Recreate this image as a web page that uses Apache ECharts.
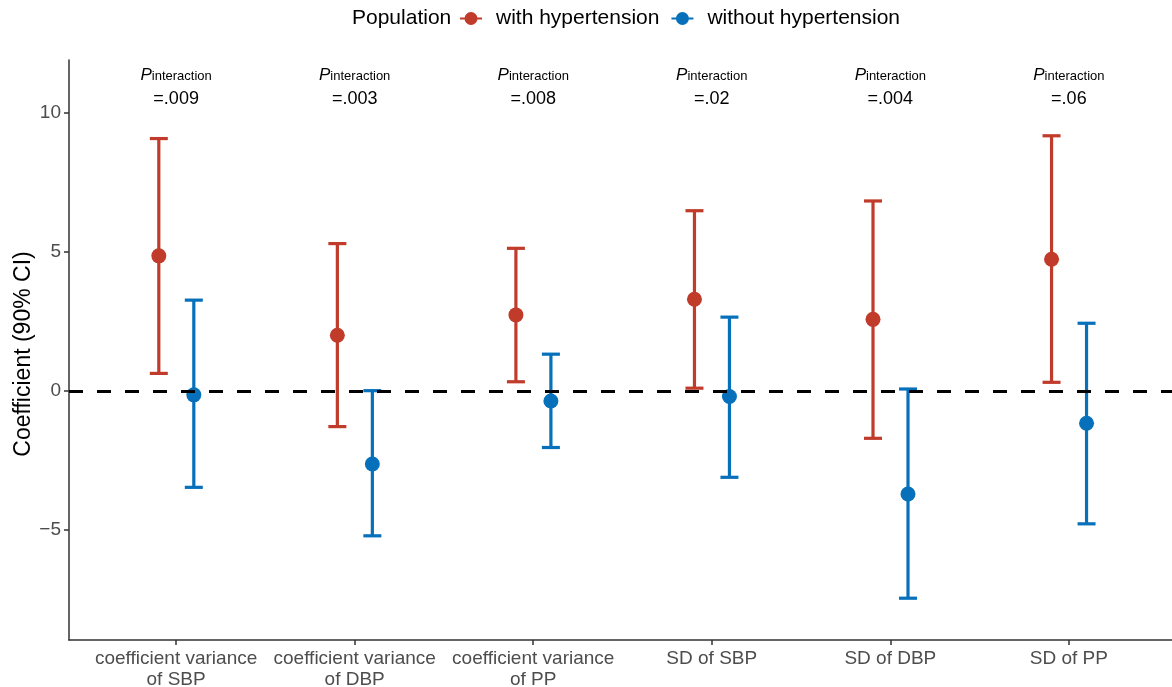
<!DOCTYPE html>
<html><head><meta charset="utf-8">
<script src="https://cdn.jsdelivr.net/npm/echarts@6/dist/echarts.min.js"></script>
<style>html,body{margin:0;padding:0;background:#fff}#c{width:1172px;height:687px}</style>
</head><body><div id="c"></div>
<script>
const categories = ['coefficient variance\nof SBP','coefficient variance\nof DBP','coefficient variance\nof PP','SD of SBP','SD of DBP','SD of PP'];
const pInteraction = ['.009','.003','.008','.02','.004','.06'];
const withEst  = [4.85, 2.00, 2.73, 3.29, 2.57, 4.73];
const withLow  = [0.63, -1.28, 0.33, 0.10, -1.70, 0.31];
const withHigh = [9.06, 5.29, 5.12, 6.47, 6.82, 9.16];
const withoutEst  = [-0.14, -2.62, -0.36, -0.20, -3.70, -1.16];
const withoutLow  = [-3.46, -5.20, -2.03, -3.10, -7.44, -4.77];
const withoutHigh = [3.26, 0.01, 1.32, 2.65, 0.07, 2.43];
const yTicks = [-5, 0, 5, 10];
const catIdx = categories.map((c, i) => i);

const FONT = "'Liberation Sans', Arial, Helvetica, sans-serif";
const RED = '#C13B2A';
const BLUE = '#0770BA';
const legendIcon = 'path://M0,5.5 L5,5.5 L5,7.5 L0,7.5 Z M17,5.5 L22,5.5 L22,7.5 L17,7.5 Z M11,0 A6.5,6.5 0 1 1 10.99,0 Z';

function errSeries(name, color, est, lo, hi, offset) {
  return {
    type: 'custom', name: name,
    itemStyle: { color: color },
    data: catIdx.map(i => [i, est[i], lo[i], hi[i]]),
    encode: { x: 0, y: [1, 2, 3] },
    z: 3,
    renderItem: function (params, api) {
      const i = api.value(0);
      const band = api.size([1, 0])[0];
      const x = api.coord([i, 0])[0] + offset * band;
      const yE = api.coord([i, api.value(1)])[1];
      const yL = api.coord([i, api.value(2)])[1];
      const yH = api.coord([i, api.value(3)])[1];
      const cap = 9;
      const ls = { stroke: color, lineWidth: 3.2 };
      return { type: 'group', children: [
        { type: 'line', shape: { x1: x, y1: yL, x2: x, y2: yH }, style: ls },
        { type: 'line', shape: { x1: x - cap, y1: yH, x2: x + cap, y2: yH }, style: ls },
        { type: 'line', shape: { x1: x - cap, y1: yL, x2: x + cap, y2: yL }, style: ls },
        { type: 'circle', shape: { cx: x, cy: yE, r: 7.5 }, style: { fill: color } }
      ]};
    }
  };
}

const chart = echarts.init(document.getElementById('c'), null, { renderer: 'canvas' });
chart.setOption({
  animation: false,
  backgroundColor: '#fff',
  textStyle: { fontFamily: FONT },
  title: { text: 'Population', left: 352, top: 8, padding: 0,
    textStyle: { fontSize: 21, fontWeight: 'normal', color: '#000', fontFamily: FONT } },
  legend: {
    left: 460, top: 8, padding: 0, itemWidth: 22, itemHeight: 13, itemGap: 12,
    selectedMode: false,
    textStyle: { fontSize: 21, color: '#000', fontFamily: FONT, padding: [0, 0, 0, 9] },
    data: [ { name: 'with hypertension', icon: legendIcon },
            { name: 'without hypertension', icon: legendIcon } ]
  },
  grid: { left: 69, top: 60, width: 1107, height: 580, outerBoundsMode: 'none', containLabel: false },
  xAxis: {
    type: 'value', min: -0.6, max: 5.6,
    axisLine: { onZero: false, lineStyle: { color: '#333', width: 1.5 } },
    axisTick: { customValues: catIdx, length: 5, lineStyle: { color: '#333', width: 1.5 } },
    axisLabel: { customValues: catIdx, formatter: v => categories[Math.round(v)],
      fontSize: 19, color: '#4D4D4D', lineHeight: 21, margin: 8, fontFamily: FONT },
    splitLine: { show: false }
  },
  yAxis: {
    type: 'value', min: -8.94, max: 11.88,
    name: 'Coefficient (90% CI)', nameLocation: 'middle', nameGap: 34, nameMoveOverlap: false,
    nameTextStyle: { fontSize: 23, color: '#000', fontFamily: FONT, padding: [0, 8, 0, 0] },
    axisLine: { show: true, onZero: false, lineStyle: { color: '#333', width: 1.5 } },
    axisTick: { show: true, customValues: yTicks, length: 5, lineStyle: { color: '#333', width: 1.5 } },
    axisLabel: { customValues: yTicks, formatter: v => String(v).replace('-', '\u2212'),
      fontSize: 19, color: '#4D4D4D', margin: 8, fontFamily: FONT },
    splitLine: { show: false }
  },
  series: [
    errSeries('with hypertension', RED, withEst, withLow, withHigh, -0.097),
    errSeries('without hypertension', BLUE, withoutEst, withoutLow, withoutHigh, 0.099),
    {
      type: 'custom', name: 'annot', silent: true, z: 4,
      data: catIdx.map(i => [i]),
      encode: { x: 0 },
      renderItem: function (params, api) {
        const i = api.value(0);
        const x = api.coord([i, 0])[0];
        const top = params.coordSys.y;
        return { type: 'group', children: [
          { type: 'text', x: x, y: top + 14, style: {
              text: '{p|P}{s|interaction}', align: 'center', verticalAlign: 'middle',
              rich: {
                p: { fontSize: 17, fontStyle: 'italic', fontFamily: FONT, fill: '#000', verticalAlign: 'bottom', lineHeight: 20 },
                s: { fontSize: 13, fontFamily: FONT, fill: '#000', verticalAlign: 'bottom', lineHeight: 20, padding: [0, 0, 1, 0] }
              } } },
          { type: 'text', x: x, y: top + 39, style: {
              text: '=' + pInteraction[params.dataIndex], align: 'center', verticalAlign: 'middle',
              fontSize: 18, fontFamily: FONT, fill: '#000' } }
        ]};
      }
    },
    {
      type: 'line', name: 'zero', data: [], z: 5,
      markLine: { silent: true, symbol: 'none', animation: false,
        label: { show: false },
        lineStyle: { type: [14, 14], color: '#000', width: 3 },
        data: [ { yAxis: 0 } ] }
    }
  ]
});
</script>
</body></html>
